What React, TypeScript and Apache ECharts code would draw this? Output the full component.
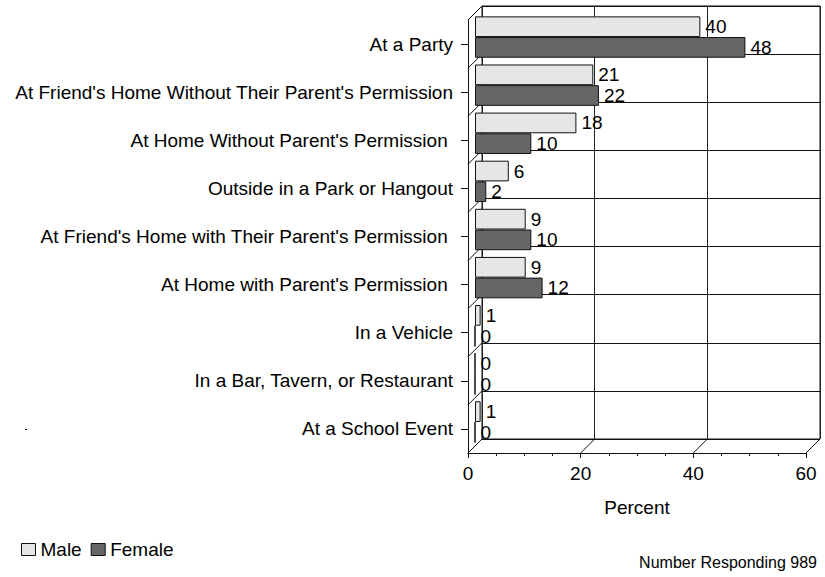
import React, { useEffect, useRef } from "react";
import * as echarts from "echarts";

// Places where students reported drinking, percent of respondents
const categories = [
  "At a Party",
  "At Friend's Home Without Their Parent's Permission",
  "At Home Without Parent's Permission ",
  "Outside in a Park or Hangout",
  "At Friend's Home with Their Parent's Permission ",
  "At Home with Parent's Permission ",
  "In a Vehicle",
  "In a Bar, Tavern, or Restaurant",
  "At a School Event",
];
const maleValues = [40, 21, 18, 6, 9, 9, 1, 0, 1];
const femaleValues = [48, 22, 10, 2, 10, 12, 0, 0, 0];
const xTicks = [0, 20, 40, 60];

const FONT = "'Liberation Sans', Arial, Helvetica, sans-serif";

// Pseudo-3D frame: back wall, bar plane (middle depth), front axes plane
const DEPTH = 14;
const FRONT_LEFT = 468;
const FRONT_TOP = 20;
const PLOT_W = 338;
const PLOT_H = 433;
const X_MAX = 60;

export default function App() {
  const ref = useRef<HTMLDivElement>(null);

  useEffect(() => {
    if (!ref.current) return;
    const chart = echarts.init(ref.current, undefined, { renderer: "svg" });

    const backLeft = FRONT_LEFT + DEPTH;
    const backTop = FRONT_TOP - DEPTH;
    const midLeft = FRONT_LEFT + DEPTH / 2;
    const midTop = FRONT_TOP - DEPTH / 2;
    const frontBottom = FRONT_TOP + PLOT_H;
    const backBottom = backTop + PLOT_H;

    const lineStyle = { stroke: "#111", lineWidth: 1 };
    const frameLines: any[] = [];
    // left wall: one slanted edge per category boundary
    for (let k = 0; k <= categories.length; k++) {
      const dy = (k * PLOT_H) / categories.length;
      frameLines.push({
        type: "line",
        shape: { x1: FRONT_LEFT, y1: FRONT_TOP + dy, x2: backLeft, y2: backTop + dy },
        style: lineStyle,
        silent: true,
      });
    }
    // floor: slanted edges at each major tick
    xTicks.forEach((v) => {
      const dx = (v / X_MAX) * PLOT_W;
      frameLines.push({
        type: "line",
        shape: { x1: FRONT_LEFT + dx, y1: frontBottom, x2: backLeft + dx, y2: backBottom },
        style: lineStyle,
        silent: true,
      });
    });

    const hiddenValueAxis = {
      type: "value" as const,
      min: 0,
      max: X_MAX,
      interval: 20,
    };

    chart.setOption({
      animation: false,
      backgroundColor: "#ffffff",
      textStyle: { fontFamily: FONT },
      grid: [
        {
          left: backLeft,
          top: backTop,
          width: PLOT_W,
          height: PLOT_H,
          show: true,
          borderColor: "#111",
          borderWidth: 1,
        },
        { left: midLeft, top: midTop, width: PLOT_W, height: PLOT_H },
        { left: FRONT_LEFT, top: FRONT_TOP, width: PLOT_W, height: PLOT_H },
      ],
      xAxis: [
        {
          ...hiddenValueAxis,
          gridIndex: 0,
          axisLine: { show: false },
          axisTick: { show: false },
          axisLabel: { show: false },
          splitLine: { show: true, lineStyle: { color: "#222", width: 1 } },
        },
        { ...hiddenValueAxis, gridIndex: 1, show: false },
        {
          ...hiddenValueAxis,
          gridIndex: 2,
          name: "Percent",
          nameLocation: "middle",
          nameGap: 45,
          nameTextStyle: { fontSize: 19, color: "#000", fontFamily: FONT },
          axisLine: { show: true, lineStyle: { color: "#111", width: 1 } },
          axisTick: { show: true, length: 5, lineStyle: { color: "#111" } },
          minorTick: { show: true, splitNumber: 4, length: 3, lineStyle: { color: "#111" } },
          axisLabel: { fontSize: 19, color: "#000", margin: 11, fontFamily: FONT },
          splitLine: { show: false },
        },
      ],
      yAxis: [
        {
          type: "category",
          gridIndex: 0,
          data: categories,
          inverse: true,
          axisLine: { show: false },
          axisTick: { show: false },
          axisLabel: { show: false },
          splitLine: { show: true, lineStyle: { color: "#111", width: 1 } },
        },
        { type: "category", gridIndex: 1, data: categories, inverse: true, show: false },
        {
          type: "category",
          gridIndex: 2,
          data: categories,
          inverse: true,
          axisLine: { show: true, lineStyle: { color: "#111", width: 1 } },
          axisTick: { show: true, length: 7, alignWithLabel: true, lineStyle: { color: "#111" } },
          axisLabel: { fontSize: 19, color: "#000", margin: 15, fontFamily: FONT },
          splitLine: { show: false },
        },
      ],
      legend: {
        left: 21,
        top: 540,
        padding: 0,
        itemWidth: 14,
        itemHeight: 12,
        itemGap: 9,
        icon: "rect",
        textStyle: { fontSize: 19, color: "#000", fontFamily: FONT },
        data: [
          { name: "Male", itemStyle: { color: "#e6e6e6", borderColor: "#111", borderWidth: 1 } },
          { name: "Female", itemStyle: { color: "#666666", borderColor: "#111", borderWidth: 1 } },
        ],
      },
      series: [
        {
          name: "Male",
          type: "bar",
          xAxisIndex: 1,
          yAxisIndex: 1,
          data: maleValues,
          barGap: "0%",
          barCategoryGap: "14%",
          itemStyle: { color: "#e6e6e6", borderColor: "#111", borderWidth: 1 },
          label: {
            show: true,
            position: "right",
            distance: 5,
            fontSize: 19,
            color: "#000",
            fontFamily: FONT,
          },
        },
        {
          name: "Female",
          type: "bar",
          xAxisIndex: 1,
          yAxisIndex: 1,
          data: femaleValues,
          barGap: "0%",
          barCategoryGap: "14%",
          itemStyle: { color: "#666666", borderColor: "#111", borderWidth: 1 },
          label: {
            show: true,
            position: "right",
            distance: 5,
            fontSize: 19,
            color: "#000",
            fontFamily: FONT,
          },
        },
      ],
      graphic: [
        ...frameLines,
        {
          type: "text",
          x: 817,
          y: 562,
          style: {
            text: "Number Responding 989",
            fontSize: 16,
            fontFamily: FONT,
            fill: "#000",
            textAlign: "right",
            textVerticalAlign: "middle",
          },
          silent: true,
        },
        {
          type: "rect",
          shape: { x: 25, y: 429, width: 2, height: 1 },
          style: { fill: "#000" },
          silent: true,
        },
      ],
    });

    return () => chart.dispose();
  }, []);

  return (
    <div
      ref={ref}
      style={{ position: "fixed", left: 0, top: 0, width: 825, height: 577, background: "#fff" }}
    />
  );
}
